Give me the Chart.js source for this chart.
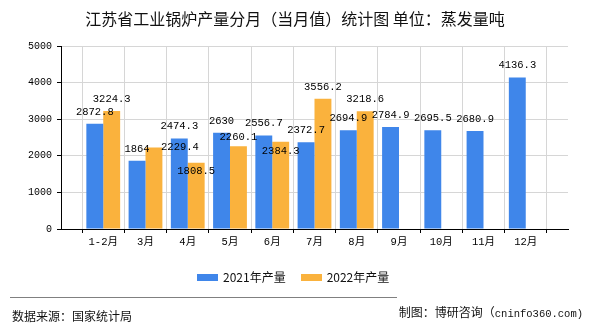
<!DOCTYPE html>
<html lang="zh-CN">
<head>
<meta charset="utf-8">
<title>江苏省工业锅炉产量分月（当月值）统计图</title>
<script src="https://cdn.jsdelivr.net/npm/chart.js@4.4.1/dist/chart.umd.min.js"></script>
<style>
  html, body { margin: 0; padding: 0; background: #fff; }
  #wrap { position: relative; width: 590px; height: 330px; overflow: hidden; background: #fff; }
  #wrap canvas { position: absolute; left: 0; top: 0; }
  .cjk { font-family: "Noto Sans CJK SC", "Noto Sans", sans-serif; color: #111; }
  #title { position: absolute; left: 0; top: 7px; width: 590px; text-align: center; font-size: 16px; line-height: 22px; }
  #legend { position: absolute; left: 197px; top: 269px; display: flex; align-items: center; font-size: 12px; line-height: 16px; }
  #legend .item { display: flex; align-items: center; margin-right: 15px; }
  #legend .swatch { width: 21px; height: 7px; margin-right: 5px; }
  #rule { position: absolute; left: 10px; top: 297px; width: 387px; height: 1px; background: #808080; }
  #source { position: absolute; left: 12px; top: 307px; font-size: 12px; line-height: 18px; }
  #credit { position: absolute; right: 7px; top: 303px; font-size: 12px; line-height: 18px; }
  #credit .latin { font-family: "Liberation Mono", monospace; font-size: 10.5px; }
</style>
</head>
<body>
<div id="wrap">
  <canvas id="boilerChart" width="590" height="330"></canvas>
  <div id="title" class="cjk">江苏省工业锅炉产量分月（当月值）统计图 单位：蒸发量吨</div>
  <div id="legend" class="cjk"></div>
  <div id="rule"></div>
  <div id="source" class="cjk">数据来源：国家统计局</div>
  <div id="credit" class="cjk">制图：博研咨询（<span class="latin">cninfo360.com)</span></div>
</div>
<script>
// --- data ---
const months = ['1-2月', '3月', '4月', '5月', '6月', '7月', '8月', '9月', '10月', '11月', '12月'];
const output2021 = [2872.8, 1864, 2474.3, 2630, 2556.7, 2372.7, 2694.9, 2784.9, 2695.5, 2680.9, 4136.3];
const output2022 = [3224.3, 2229.4, 1808.5, 2260.1, 2384.3, 3556.2, 3218.6];
const yTicks = [0, 1000, 2000, 3000, 4000, 5000];
const seriesNames = ['2021年产量', '2022年产量'];

const BLUE = '#3f86ea';
const ORANGE = '#fab23d';
const GRID = '#d6d6d6';
const MONO = '"Liberation Mono", "Noto Sans CJK SC", monospace';

// the x axis has an empty slot at each end, months sit on the tick lines
const pad = (arr) => {
  const out = [null, ...arr];
  while (out.length < months.length + 2) out.push(null);
  return out;
};
const axisLabels = ['', ...months, ''];

// value labels above each bar; a few were pushed aside in the original
const barValueLabels = {
  id: 'barValueLabels',
  afterDatasetsDraw(chart, args, opts) {
    const ctx = chart.ctx;
    ctx.save();
    ctx.font = opts.font;
    ctx.fillStyle = opts.color;
    ctx.textAlign = 'center';
    ctx.textBaseline = 'middle';
    chart.data.datasets.forEach((ds, di) => {
      const meta = chart.getDatasetMeta(di);
      meta.data.forEach((bar, i) => {
        const v = ds.data[i];
        if (v === null || v === undefined) return;
        const shift = (opts.nudges[di] || {})[chart.data.labels[i]] || [0, 0];
        ctx.fillText(String(v), bar.x + shift[0], bar.y - opts.gap + shift[1]);
      });
    });
    ctx.restore();
  }
};

const ctx = document.getElementById('boilerChart').getContext('2d');
const boilerChart = new Chart(ctx, {
  type: 'bar',
  data: {
    labels: axisLabels,
    datasets: [
      { label: seriesNames[0], data: pad(output2021), backgroundColor: BLUE },
      { label: seriesNames[1], data: pad(output2022), backgroundColor: ORANGE }
    ]
  },
  options: {
    responsive: false,
    animation: false,
    devicePixelRatio: 1,
    categoryPercentage: 0.8,
    barPercentage: 1,
    layout: { padding: { left: 0, right: 22, top: 46, bottom: 76 } },
    plugins: {
      legend: { display: false },
      title: { display: false },
      tooltip: { enabled: false },
      barValueLabels: {
        font: '10.5px ' + MONO,
        color: '#000',
        gap: 12,
        nudges: {
          1: { '3月': [26, 12], '4月': [0, 20], '5月': [0, 3], '6月': [0, 21] }
        }
      }
    },
    scales: {
      x: {
        offset: false,
        afterFit(scale) { scale.height = 25; },
        grid: { color: GRID, tickColor: '#000', tickLength: 4 },
        border: { display: true, color: '#000', width: 1 },
        ticks: {
          color: '#000',
          padding: 3,
          autoSkip: false,
          maxRotation: 0,
          font: { family: MONO, size: 10.5 }
        }
      },
      y: {
        min: yTicks[0],
        max: yTicks[yTicks.length - 1],
        afterFit(scale) { scale.width = 61; },
        grid: { color: GRID, tickColor: '#000', tickLength: 4 },
        border: { display: true, color: '#000', width: 1 },
        ticks: {
          stepSize: yTicks[1] - yTicks[0],
          color: '#000',
          padding: 5,
          font: { family: MONO, size: 10 },
          callback: (v) => String(v)
        }
      }
    }
  },
  plugins: [barValueLabels]
});

// legend built from the datasets
const legendEl = document.getElementById('legend');
boilerChart.data.datasets.forEach((ds) => {
  const item = document.createElement('div');
  item.className = 'item';
  const sw = document.createElement('span');
  sw.className = 'swatch';
  sw.style.background = ds.backgroundColor;
  const txt = document.createElement('span');
  txt.textContent = ds.label;
  item.appendChild(sw);
  item.appendChild(txt);
  legendEl.appendChild(item);
});
</script>
</body>
</html>
